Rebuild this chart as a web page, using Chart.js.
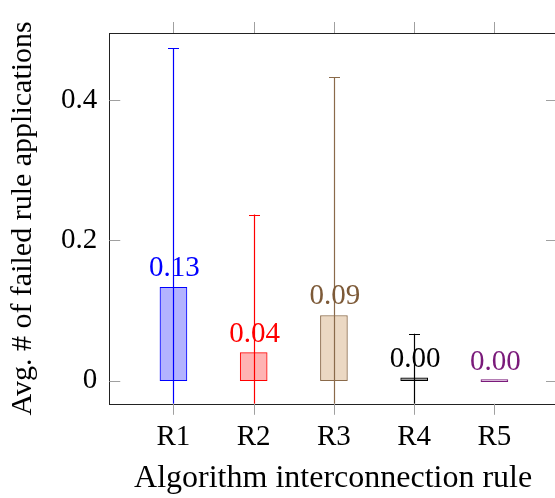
<!DOCTYPE html>
<html>
<head>
<meta charset="utf-8">
<script src="https://cdn.jsdelivr.net/npm/chart.js@4"></script>
<style>
  html, body { margin: 0; padding: 0; background: #fff; overflow: hidden; }
  #wrap { width: 560px; height: 498px; }
</style>
</head>
<body>
<div id="wrap"><canvas id="failChart" width="560" height="498"></canvas></div>
<script>
// values
const rules = ['R1', 'R2', 'R3', 'R4', 'R5'];
const means = [0.133, 0.04, 0.093, 0.004, 0.0];
const stdDevs = [0.341, 0.197, 0.340, 0.063, 0.0];
const meanLabels = ['0.13', '0.04', '0.09', '0.00', '0.00'];
const yTicks = [0, 0.2, 0.4];

const lineColors = ['#0000ff', '#ff0000', '#8a6a4a', '#000000', '#7a1a7a'];
const fillColors = ['#b3b3ff', '#ffb3b3', '#ebd8c3', '#9a9a9a', '#d7b3d7'];
const labelColors = ['#0000ff', '#ff0000', '#7d5a38', '#000000', '#7a1a7a'];

const serif = "'Liberation Serif', 'DejaVu Serif', serif";
const fontSize = 29;

// error bars, value labels, frame and ticks
const extras = {
    id: 'extras',
    afterDatasetsDraw(chart) {
        const ctx = chart.ctx;
        const x = chart.scales.x, y = chart.scales.y;
        const area = chart.chartArea;
        ctx.save();
        ctx.beginPath();
        ctx.rect(area.left, area.top, area.right - area.left, area.bottom - area.top);
        ctx.clip();
        rules.forEach((r, i) => {
            const px = Math.round(x.getPixelForValue(i + 1)) + 0.5;
            const top = y.getPixelForValue(means[i] + stdDevs[i]);
            const bot = y.getPixelForValue(means[i] - stdDevs[i]);
            ctx.strokeStyle = lineColors[i];
            ctx.lineWidth = 1.2;
            ctx.beginPath();
            ctx.moveTo(px, top);
            ctx.lineTo(px, bot);
            ctx.moveTo(px - 5.5, Math.round(top) + 0.5);
            ctx.lineTo(px + 5.5, Math.round(top) + 0.5);
            ctx.stroke();
        });
        ctx.restore();

        ctx.save();
        ctx.font = fontSize + 'px ' + serif;
        ctx.textAlign = 'center';
        ctx.textBaseline = 'alphabetic';
        rules.forEach((r, i) => {
            const px = x.getPixelForValue(i + 1);
            const py = y.getPixelForValue(means[i]);
            ctx.fillStyle = labelColors[i];
            ctx.fillText(meanLabels[i], px + 1, py - 11);
        });
        ctx.restore();

        // frame
        ctx.save();
        ctx.strokeStyle = '#222';
        ctx.lineWidth = 1;
        ctx.strokeRect(Math.round(area.left) + 0.5, Math.round(area.top) + 0.5,
            Math.round(area.right - area.left), Math.round(area.bottom - area.top));
        // tick marks: y inside, x outside
        ctx.strokeStyle = '#a0a0a0';
        ctx.beginPath();
        yTicks.forEach(v => {
            const py = Math.round(y.getPixelForValue(v)) + 0.5;
            ctx.moveTo(area.left, py);
            ctx.lineTo(area.left + 11, py);
            ctx.moveTo(area.right - 11, py);
            ctx.lineTo(area.right, py);
        });
        rules.forEach((r, i) => {
            const px = Math.round(x.getPixelForValue(i + 1)) + 0.5;
            ctx.moveTo(px, area.top - 11);
            ctx.lineTo(px, area.top);
            ctx.moveTo(px, area.bottom);
            ctx.lineTo(px, area.bottom + 11);
        });
        ctx.stroke();
        ctx.restore();
    }
};

const ctx = document.getElementById('failChart').getContext('2d');
new Chart(ctx, {
    type: 'bar',
    data: {
        datasets: [{
            data: means.map((m, i) => ({ x: i + 1, y: m })),
            backgroundColor: fillColors,
            borderColor: lineColors,
            borderWidth: 1,
            borderSkipped: false,
            barThickness: 27,
            minBarLength: 2
        }]
    },
    options: {
        responsive: false,
        animation: false,
        layout: { padding: { top: 33, right: 3, left: 5, bottom: 0 } },
        scales: {
            x: {
                type: 'linear',
                offset: false,
                min: 0.2,
                max: 5.78,
                afterBuildTicks: scale => {
                    scale.ticks = rules.map((r, i) => ({ value: i + 1 }));
                },
                ticks: {
                    callback: v => rules[v - 1],
                    color: '#000',
                    font: { family: serif, size: fontSize },
                    padding: 16,
                    maxRotation: 0
                },
                grid: { display: false, drawTicks: false },
                border: { display: false },
                title: {
                    display: true,
                    text: 'Algorithm interconnection rule',
                    color: '#000',
                    font: { family: serif, size: 32 },
                    padding: { top: -11, bottom: 0 }
                }
            },
            y: {
                min: -0.033,
                max: 0.496,
                afterBuildTicks: scale => {
                    scale.ticks = yTicks.map(v => ({ value: v }));
                },
                ticks: {
                    callback: v => String(v),
                    color: '#000',
                    font: { family: serif, size: fontSize },
                    padding: 12
                },
                grid: { display: false, drawTicks: false },
                border: { display: false },
                title: {
                    display: true,
                    text: 'Avg. # of failed rule applications',
                    color: '#000',
                    font: { family: serif, size: 30 },
                    padding: { top: 0, bottom: 8 }
                }
            }
        },
        plugins: {
            legend: { display: false },
            tooltip: { enabled: false }
        }
    },
    plugins: [extras]
});
</script>
</body>
</html>
